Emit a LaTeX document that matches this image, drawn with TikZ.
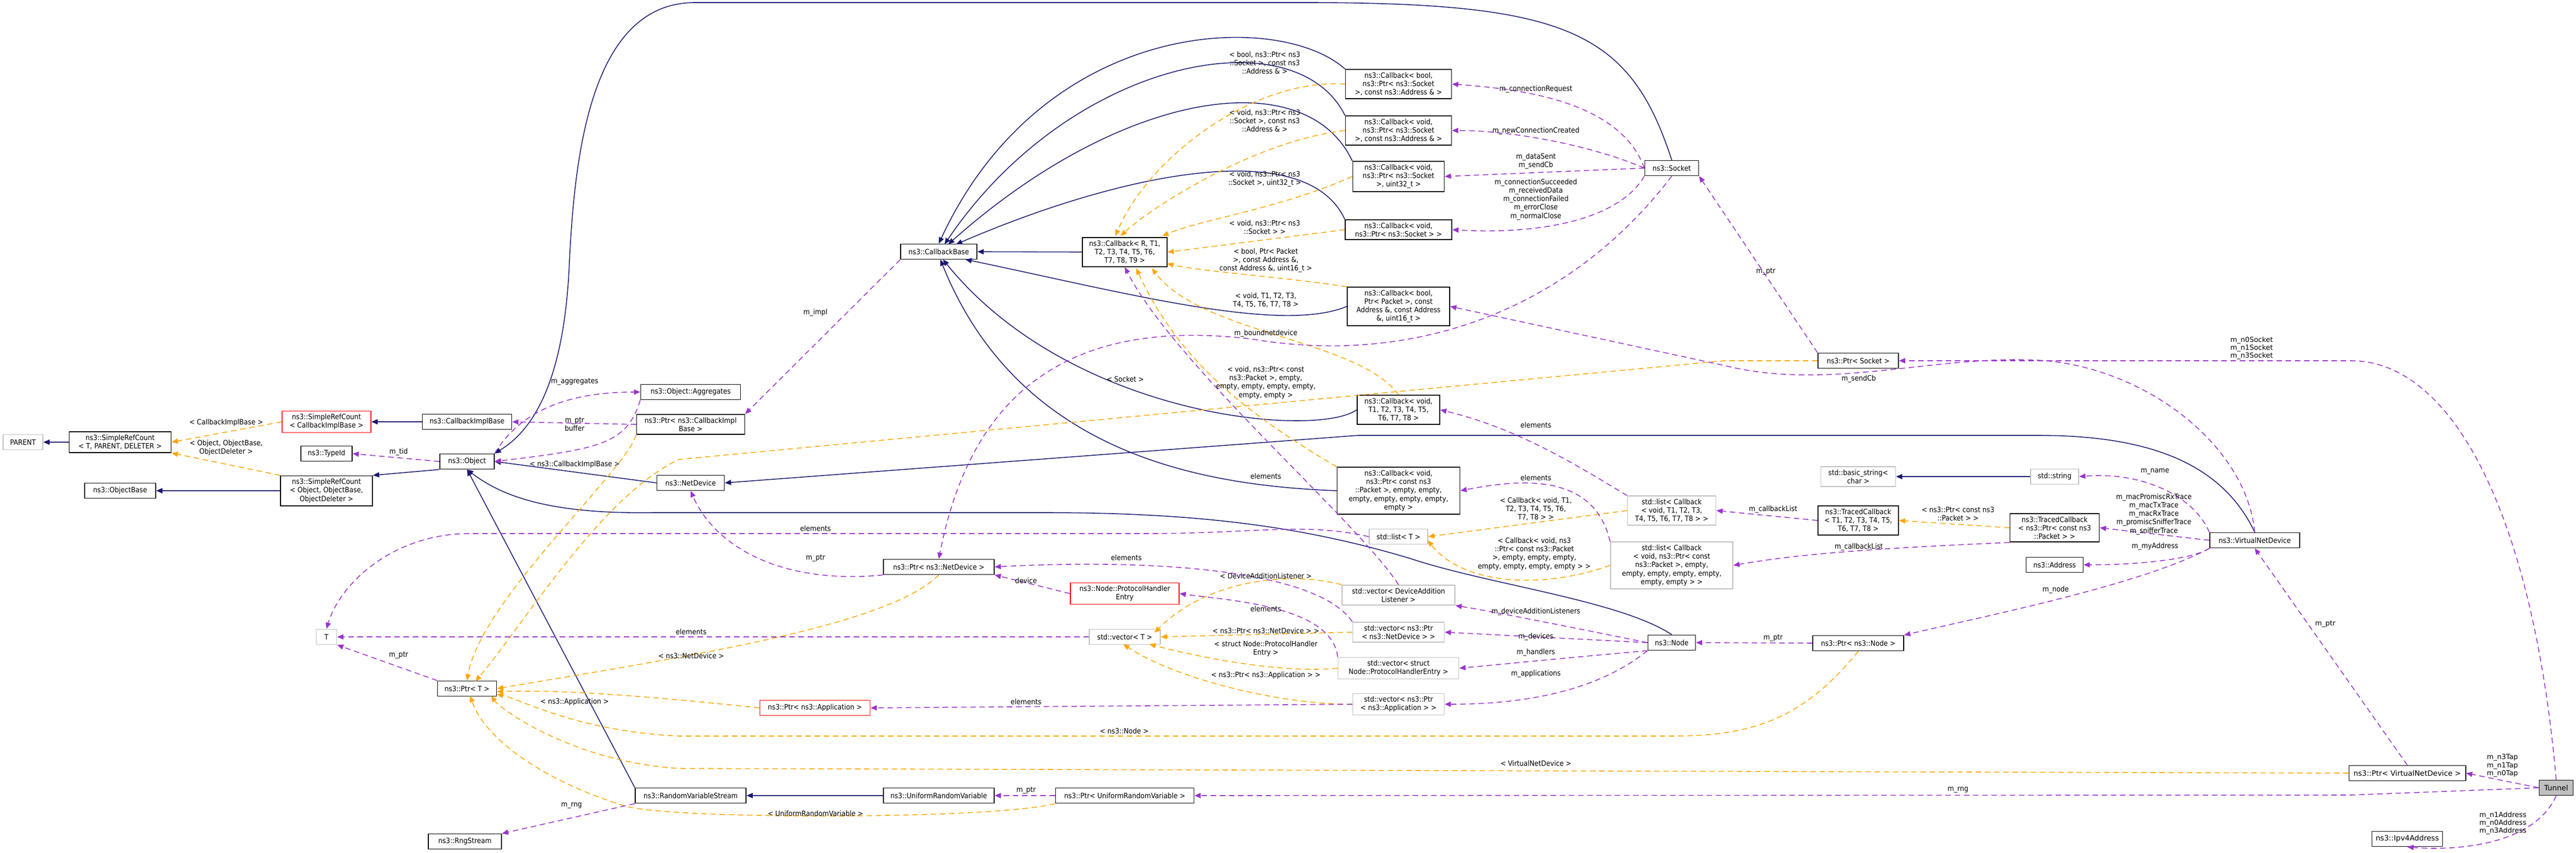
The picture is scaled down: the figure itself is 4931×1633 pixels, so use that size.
\documentclass[tikz,border=0pt]{standalone}
\usepackage{fontspec}
\setmainfont{DejaVu Sans Condensed}
\newfontfamily\widefont{DejaVu Sans}
\usetikzlibrary{arrows.meta}
\definecolor{inhblue}{HTML}{191970}
\definecolor{tplorange}{HTML}{FFA500}
\definecolor{usepurple}{HTML}{9A32CD}
\definecolor{undocgray}{HTML}{BFBFBF}
\tikzset{
  every node/.style={font=\fontsize{4}{4.6}\selectfont},
  cls/.style={draw=black, fill=white, line width=0.5pt, align=center, inner xsep=1pt, inner ysep=1.6pt, minimum height=0.29cm},
  undoc/.style={cls, draw=undocgray},
  redcls/.style={cls, draw=red},
  selfcls/.style={cls, fill=black!25, font=\widefont\fontsize{4}{4.6}\selectfont},
  lbl/.style={align=center, inner sep=0pt},
  wlbl/.style={lbl, font=\widefont\fontsize{3.8}{4.4}\selectfont},
  inh/.style={draw=inhblue, line width=0.45pt, -{Triangle[length=3.4pt,width=2.8pt]}},
  tpl/.style={draw=tplorange, line width=0.45pt, dash pattern=on 3pt off 2pt, -{Triangle[length=3.4pt,width=2.8pt]}},
  use/.style={draw=usepurple, line width=0.45pt, dash pattern=on 3pt off 2pt, -{Triangle[length=3.4pt,width=2.8pt]}},
}
\begin{document}
\begin{tikzpicture}[x=0.01cm, y=-0.01cm]
\useasboundingbox (0,0) rectangle (4931,1633);

% classes
\node[undoc, minimum width=0.76cm] (parent) at (44,847) {PARENT};
\node[cls, minimum width=1.95cm] (srcTPD) at (230,847) {ns3::SimpleRefCount\\< T, PARENT, DELETER >};
\node[cls, minimum width=1.36cm] (objbase) at (230,940) {ns3::ObjectBase};
\node[redcls, minimum width=1.70cm] (srcCIB) at (625,808) {ns3::SimpleRefCount\\< CallbackImplBase >};
\node[cls, minimum width=0.98cm] (typeid) at (625,869) {ns3::TypeId};
\node[cls, minimum width=1.76cm] (srcObj) at (625,940) {ns3::SimpleRefCount\\< Object, ObjectBase,\\ObjectDeleter >};
\node[undoc, minimum width=0.39cm] (tnode) at (625,1220) {T};
\node[cls, minimum width=1.71cm] (cib) at (894,808) {ns3::CallbackImplBase};
\node[cls, minimum width=1.04cm] (object) at (894,884) {ns3::Object};
\node[cls, minimum width=1.13cm] (ptrT) at (894,1319) {ns3::Ptr< T >};
\node[cls, minimum width=1.40cm] (rngstream) at (890,1612) {ns3::RngStream};
\node[cls, minimum width=1.91cm] (aggr) at (1322,751) {ns3::Object::Aggregates};
\node[cls, minimum width=2.07cm] (ptrCIB) at (1322,813) {ns3::Ptr< ns3::CallbackImpl\\Base >};
\node[cls, minimum width=1.29cm] (netdev) at (1322,925) {ns3::NetDevice};
\node[cls, minimum width=2.12cm] (rvs) at (1322,1524) {ns3::RandomVariableStream};
\node[redcls, minimum width=2.11cm] (ptrApp) at (1560,1356) {ns3::Ptr< ns3::Application >};
\node[cls, minimum width=1.46cm] (cbbase) at (1797,482) {ns3::CallbackBase};
\node[cls, minimum width=2.12cm] (ptrND) at (1797,1086) {ns3::Ptr< ns3::NetDevice >};
\node[cls, minimum width=2.12cm] (urv) at (1797,1524) {ns3::UniformRandomVariable};
\node[cls, minimum width=1.62cm] (cbR) at (2153,483) {ns3::Callback< R, T1,\\T2, T3, T4, T5, T6,\\T7, T8, T9 >};
\node[redcls, minimum width=2.08cm] (phe) at (2153,1137) {ns3::Node::ProtocolHandler\\Entry};
\node[undoc, minimum width=1.36cm] (vecT) at (2153,1220) {std::vector< T >};
\node[cls, minimum width=2.65cm] (ptrURV) at (2153,1524) {ns3::Ptr< UniformRandomVariable >};
\node[cls, minimum width=2.03cm] (cbBSA) at (2677,161) {ns3::Callback< bool,\\ns3::Ptr< ns3::Socket\\>, const ns3::Address \& >};
\node[cls, minimum width=2.03cm] (cbVSA) at (2677,250) {ns3::Callback< void,\\ns3::Ptr< ns3::Socket\\>, const ns3::Address \& >};
\node[cls, minimum width=1.75cm] (cbVSU) at (2677,338) {ns3::Callback< void,\\ns3::Ptr< ns3::Socket\\>, uint32\_t >};
\node[cls, minimum width=2.04cm] (cbVS) at (2677,440) {ns3::Callback< void,\\ns3::Ptr< ns3::Socket > >};
\node[cls, minimum width=1.96cm] (cbBP) at (2677,587) {ns3::Callback< bool,\\Ptr< Packet >, const\\Address \&, const Address\\\&, uint16\_t >};
\node[cls, minimum width=1.58cm] (cbVT) at (2677,785) {ns3::Callback< void,\\T1, T2, T3, T4, T5,\\T6, T7, T8 >};
\node[cls, minimum width=2.35cm] (cbVP) at (2677,940) {ns3::Callback< void,\\ns3::Ptr< const ns3\\::Packet >, empty, empty,\\empty, empty, empty, empty,\\empty >};
\node[undoc, minimum width=1.12cm] (listT) at (2677,1028) {std::list< T >};
\node[undoc, minimum width=2.16cm] (vecDAL) at (2677,1140) {std::vector< DeviceAddition\\Listener >};
\node[undoc, minimum width=1.75cm] (vecND) at (2677,1211) {std::vector< ns3::Ptr\\< ns3::NetDevice > >};
\node[undoc, minimum width=2.31cm] (vecPHE) at (2677,1280) {std::vector< struct\\Node::ProtocolHandlerEntry >};
\node[undoc, minimum width=1.75cm] (vecApp) at (2677,1349) {std::vector< ns3::Ptr\\< ns3::Application > >};
\node[cls, minimum width=1.03cm] (socket) at (3200,322) {ns3::Socket};
\node[undoc, minimum width=1.69cm] (listVT) at (3200,978) {std::list< Callback\\< void, T1, T2, T3,\\T4, T5, T6, T7, T8 > >};
\node[undoc, minimum width=2.34cm] (listVP) at (3200,1083) {std::list< Callback\\< void, ns3::Ptr< const\\ns3::Packet >, empty,\\empty, empty, empty, empty,\\empty, empty > >};
\node[cls, minimum width=0.91cm] (node) at (3200,1231) {ns3::Node};
\node[cls, minimum width=1.54cm] (ptrSock) at (3557,691) {ns3::Ptr< Socket >};
\node[undoc, minimum width=1.43cm] (bstring) at (3557,913) {std::basic\_string<\\char >};
\node[cls, minimum width=1.54cm] (tcT) at (3557,997) {ns3::TracedCallback\\< T1, T2, T3, T4, T5,\\T6, T7, T8 >};
\node[cls, minimum width=1.74cm] (ptrNode) at (3557,1232) {ns3::Ptr< ns3::Node >};
\node[undoc, minimum width=0.92cm] (string) at (3933,913) {std::string};
\node[cls, minimum width=1.71cm] (tcP) at (3933,1011) {ns3::TracedCallback\\< ns3::Ptr< const ns3\\::Packet > >};
\node[cls, minimum width=1.09cm] (address) at (3933,1082) {ns3::Address};
\node[cls, minimum width=1.72cm] (vnd) at (4316,1035) {ns3::VirtualNetDevice};
\node[cls, minimum width=2.23cm, font=\widefont\fontsize{4}{4.6}\selectfont] (ptrVND) at (4608,1481) {ns3::Ptr< VirtualNetDevice >};
\node[cls, minimum width=1.35cm, font=\widefont\fontsize{4}{4.6}\selectfont] (ipv4) at (4608,1607) {ns3::Ipv4Address};
\node[selfcls, minimum width=0.65cm] (tunnel) at (4893,1509) {Tunnel};

% inheritance
\draw[inh] (srcTPD) -- (parent);
\draw[inh] (srcObj) -- (objbase);
\draw[inh] (cib) -- (srcCIB);
\draw[inh] (object.south west) -- (srcObj.north east);
\draw[inh] (cbR) -- (cbbase);
\draw[inh] (cbBSA.north west) .. controls (2450,20) and (2000,30) .. (cbbase.north);
\draw[inh] (cbVSA.north west) .. controls (2480,30) and (2050,110) .. (1808,468);
\draw[inh] (cbVSU.north west) .. controls (2500,120) and (2150,170) .. (1815,468);
\draw[inh] (cbVS.north west) .. controls (2500,260) and (2150,330) .. (1830,468);
\draw[inh] (cbBP.west) .. controls (2450,640) and (2150,560) .. (1848,497);
\draw[inh] (cbVT.west) .. controls (2520,840) and (2050,800) .. (1805,497);
\draw[inh] (cbVP.west) .. controls (2300,930) and (1950,870) .. (1800,497);
\draw[inh] (socket.north) .. controls (3120,60) and (3000,5) .. (2500,5) -- (1330,5) .. controls (1130,5) and (1100,300) .. (1090,500) .. controls (1080,750) and (1010,830) .. (object.north east);
\draw[inh] (netdev.west) -- (object.east);
\draw[inh] (vnd.north) .. controls (4250,880) and (4100,834) .. (3900,834) -- (2600,834) -- (netdev.east);
\draw[inh] (node.north) .. controls (3100,1150) and (2850,1120) .. (2700,1070) .. controls (2500,1010) and (2300,982) .. (2000,982) -- (1250,982) .. controls (1050,985) and (960,950) .. (object.south);
\draw[inh] (rvs.north west) -- (object.south);
\draw[inh] (urv) -- (rvs);
\draw[inh] (string) -- (bstring);

% template instances
\draw[tpl] (srcCIB.west) -- (srcTPD.east);
\draw[tpl] (srcObj.north west) -- (srcTPD.south east);
\draw[tpl] (cbBSA.west) .. controls (2400,150) and (2200,300) .. (2135,452);
\draw[tpl] (cbVSA.west) .. controls (2400,270) and (2200,400) .. (2145,452);
\draw[tpl] (cbVSU.west) .. controls (2450,400) and (2300,420) .. (2225,452);
\draw[tpl] (cbVS.west) -- (cbR.east);
\draw[tpl] (cbBP.north west) .. controls (2450,530) and (2300,520) .. (2234,505);
\draw[tpl] (cbVT.north) .. controls (2600,650) and (2300,640) .. (2205,514);
\draw[tpl] (cbVP.north west) .. controls (2400,800) and (2260,700) .. (2175,514);
\draw[tpl] (listVT.west) -- (listT.east);
\draw[tpl] (listVP.west) .. controls (2950,1130) and (2800,1120) .. (2733,1035);
\draw[tpl] (tcP.west) -- (tcT.east);
\draw[tpl] (vecDAL.north west) .. controls (2450,1090) and (2300,1120) .. (2210,1212);
\draw[tpl] (vecND.west) -- (vecT.east);
\draw[tpl] (vecPHE.west) .. controls (2450,1290) and (2300,1260) .. (2200,1234);
\draw[tpl] (vecApp.west) .. controls (2450,1350) and (2250,1300) .. (2150,1234);
\draw[tpl] (ptrCIB.south west) .. controls (1200,900) and (920,1150) .. (ptrT.north);
\draw[tpl] (ptrSock.west) -- (3300,691) -- (1300,880) .. controls (1150,950) and (1000,1200) .. (910,1305);
\draw[tpl] (ptrND.south) .. controls (1700,1200) and (1300,1260) .. (ptrT.east);
\draw[tpl] (ptrApp.west) .. controls (1300,1340) and (1100,1320) .. (951,1325);
\draw[tpl] (ptrNode.south) .. controls (3450,1380) and (3350,1410) .. (3200,1410) -- (1300,1410) .. controls (1100,1400) and (1000,1340) .. (951,1330);
\draw[tpl] (ptrVND.west) -- (1300,1472) .. controls (1100,1460) and (960,1360) .. (940,1333);
\draw[tpl] (ptrURV.south west) .. controls (1900,1570) and (1300,1570) .. (1200,1545) .. controls (1050,1500) and (930,1420) .. (900,1333);

% members
\draw[use] (object.west) -- (typeid.east);
\draw[use] (object.north east) .. controls (1000,780) and (1100,751) .. (aggr.west);
\draw[use] (aggr.south west) .. controls (1200,850) and (1150,860) .. (object.east);
\draw[use] (ptrCIB.west) -- (cib.east);
\draw[use] (cbbase.south west) -- (ptrCIB.north east);
\draw[use] (socket.west) .. controls (3100,190) and (2900,170) .. (cbBSA.east);
\draw[use] (socket.west) .. controls (3050,280) and (2900,250) .. (cbVSA.east);
\draw[use] (socket.west) -- (cbVSU.east);
\draw[use] (socket.south west) .. controls (3100,420) and (2950,450) .. (cbVS.east);
\draw[use] (socket.south) .. controls (3000,600) and (2700,700) .. (2400,650) .. controls (2000,600) and (1850,800) .. (ptrND.north);
\draw[use] (ptrND.south west) .. controls (1500,1120) and (1370,1050) .. (netdev.south);
\draw[use] (ptrT.north west) -- (tnode.south east);
\draw[use] (vecT.west) -- (tnode.east);
\draw[use] (listT.west) .. controls (2500,1000) and (2400,1022) .. (2200,1022) -- (900,1022) .. controls (750,1022) and (650,1120) .. (tnode.north);
\draw[use] (listVT.north west) .. controls (3000,880) and (2900,820) .. (cbVT.east);
\draw[use] (listVP.north west) .. controls (3050,900) and (2900,920) .. (cbVP.east);
\draw[use] (vecDAL.north) .. controls (2600,1000) and (2250,700) .. (cbR.south);
\draw[use] (vecND.north west) .. controls (2520,1090) and (2200,1070) .. (ptrND.east);
\draw[use] (vecPHE.north west) .. controls (2550,1160) and (2350,1150) .. (phe.east);
\draw[use] (vecApp.west) -- (ptrApp.east);
\draw[use] (phe.west) -- (ptrND.south east);
\draw[use] (node.west) .. controls (3000,1200) and (2850,1170) .. (vecDAL.south east);
\draw[use] (node.west) -- (vecND.east);
\draw[use] (node.south west) .. controls (3000,1260) and (2900,1270) .. (vecPHE.east);
\draw[use] (node.south west) .. controls (3050,1330) and (2900,1349) .. (vecApp.east);
\draw[use] (ptrNode.west) -- (node.east);
\draw[use] (ptrSock.north west) -- (socket.south east);
\draw[use] (vnd.north) .. controls (4300,850) and (4100,700) .. (3900,690) .. controls (3700,680) and (3500,750) .. (3300,700) -- (cbBP.east);
\draw[use] (vnd.north west) .. controls (4200,950) and (4100,903) .. (string.east);
\draw[use] (vnd.west) -- (tcP.east);
\draw[use] (vnd.south west) .. controls (4200,1070) and (4100,1082) .. (address.east);
\draw[use] (vnd.south west) .. controls (4100,1120) and (3800,1180) .. (ptrNode.north east);
\draw[use] (tcT.west) -- (listVT.east);
\draw[use] (tcP.south west) .. controls (3600,1050) and (3450,1060) .. (listVP.east);
\draw[use] (ptrVND.north) -- (vnd.south);
\draw[use] (tunnel.north) .. controls (4850,1000) and (4700,691) .. (4500,691) -- (ptrSock.east);
\draw[use] (tunnel.west) -- (ptrVND.east);
\draw[use] (tunnel.west) -- (4500,1523) -- (ptrURV.east);
\draw[use] (tunnel.south) .. controls (4850,1620) and (4700,1630) .. (ipv4.south);
\draw[use] (ptrURV.west) -- (urv.east);
\draw[use] (rvs.south west) -- (rngstream.north east);

% labels
\node[lbl] (lCIB) at (433,810) {< CallbackImplBase >};
\node[lbl] (lObj) at (433,858) {< Object, ObjectBase,\\ObjectDeleter >};
\node[lbl] (lTid) at (763,866) {m\_tid};
\node[lbl] (lPtrT) at (763,1255) {m\_ptr};
\node[lbl] (lAggr) at (1100,731) {m\_aggregates};
\node[lbl] (lBuf) at (1100,813) {m\_ptr\\buffer};
\node[lbl] (lPCIB) at (1100,890) {< ns3::CallbackImplBase >};
\node[lbl] (lImpl) at (1561,599) {m\_impl};
\node[lbl] (lSock) at (2154,726) {< Socket >};
\node[lbl] (lEl1) at (1561,1012) {elements};
\node[lbl] (lNDptr) at (1561,1069) {m\_ptr};
\node[lbl] (lDev) at (1964,1112) {device};
\node[lbl] (lEl2) at (2156,1068) {elements};
\node[lbl] (lEl3) at (1323,1210) {elements};
\node[lbl] (lND) at (1323,1256) {< ns3::NetDevice >};
\node[lbl] (lApp) at (1100,1345) {< ns3::Application >};
\node[lbl] (lEl4) at (1964,1344) {elements};
\node[lbl] (lNode) at (2152,1400) {< ns3::Node >};
\node[lbl] (lURVptr) at (1964,1514) {m\_ptr};
\node[lbl] (lURV) at (1561,1558) {< UniformRandomVariable >};
\node[lbl] (lRng1) at (1094,1543) {m\_rng};
\node[lbl] (lBSA) at (2421,120) {< bool, ns3::Ptr< ns3\\::Socket >, const ns3\\::Address \& >};
\node[lbl] (lVSA) at (2421,231) {< void, ns3::Ptr< ns3\\::Socket >, const ns3\\::Address \& >};
\node[lbl] (lVSU) at (2421,343) {< void, ns3::Ptr< ns3\\::Socket >, uint32\_t >};
\node[lbl] (lVS) at (2421,435) {< void, ns3::Ptr< ns3\\::Socket > >};
\node[lbl] (lBP) at (2423,499) {< bool, Ptr< Packet\\>, const Address \&,\\const Address \&, uint16\_t >};
\node[lbl] (lVT) at (2423,575) {< void, T1, T2, T3,\\T4, T5, T6, T7, T8 >};
\node[lbl] (lBound) at (2423,639) {m\_boundnetdevice};
\node[lbl] (lVP) at (2423,733) {< void, ns3::Ptr< const\\ns3::Packet >, empty,\\empty, empty, empty, empty,\\empty, empty >};
\node[lbl] (lEl5) at (2423,912) {elements};
\node[lbl] (lEl6) at (2423,1166) {elements};
\node[lbl] (lDAL) at (2423,1103) {< DeviceAdditionListener >};
\node[lbl] (lPND) at (2423,1208) {< ns3::Ptr< ns3::NetDevice > >};
\node[lbl] (lPHE) at (2423,1243) {< struct Node::ProtocolHandler\\Entry >};
\node[lbl] (lPApp) at (2423,1294) {< ns3::Ptr< ns3::Application > >};
\node[lbl] (lReq) at (2940,171) {m\_connectionRequest};
\node[lbl] (lNew) at (2940,251) {m\_newConnectionCreated};
\node[lbl] (lSent) at (2940,309) {m\_dataSent\\m\_sendCb};
\node[lbl] (lSucc) at (2940,382) {m\_connectionSucceeded\\m\_receivedData\\m\_connectionFailed\\m\_errorClose\\m\_normalClose};
\node[lbl] (lEl7) at (2940,814) {elements};
\node[lbl] (lEl8) at (2940,915) {elements};
\node[lbl] (lLVT) at (2940,975) {< Callback< void, T1,\\T2, T3, T4, T5, T6,\\T7, T8 > >};
\node[lbl] (lLVP) at (2937,1061) {< Callback< void, ns3\\::Ptr< const ns3::Packet\\>, empty, empty, empty,\\empty, empty, empty, empty > >};
\node[lbl] (lDALm) at (2940,1172) {m\_deviceAdditionListeners};
\node[lbl] (lDevs) at (2940,1220) {m\_devices};
\node[lbl] (lHand) at (2940,1250) {m\_handlers};
\node[lbl] (lApps) at (2940,1291) {m\_applications};
\node[lbl] (lVND) at (2940,1462) {< VirtualNetDevice >};
\node[lbl] (lSockPtr) at (3380,520) {m\_ptr};
\node[lbl] (lSendCb) at (3558,726) {m\_sendCb};
\node[lbl] (lCL1) at (3394,976) {m\_callbackList};
\node[lbl] (lPkt) at (3748,984) {< ns3::Ptr< const ns3\\::Packet > >};
\node[lbl] (lCL2) at (3558,1048) {m\_callbackList};
\node[lbl] (lNodePtr) at (3394,1222) {m\_ptr};
\node[lbl] (lRng2) at (3748,1513) {m\_rng};
\node[lbl] (lName) at (4125,903) {m\_name};
\node[lbl] (lTrace) at (4123,985) {m\_macPromiscRxTrace\\m\_macTxTrace\\m\_macRxTrace\\m\_promiscSnifferTrace\\m\_snifferTrace};
\node[lbl] (lMyAddr) at (4125,1047) {m\_myAddress};
\node[lbl] (lMNode) at (3935,1130) {m\_node};
\node[wlbl] (lSockets) at (4310,667) {m\_n0Socket\\m\_n1Socket\\m\_n3Socket};
\node[wlbl] (lVNDptr) at (4451,1195) {m\_ptr};
\node[wlbl] (lTaps) at (4790,1467) {m\_n3Tap\\m\_n1Tap\\m\_n0Tap};
\node[wlbl] (lAddrs) at (4791,1577) {m\_n1Address\\m\_n0Address\\m\_n3Address};
\end{tikzpicture}
\end{document}
